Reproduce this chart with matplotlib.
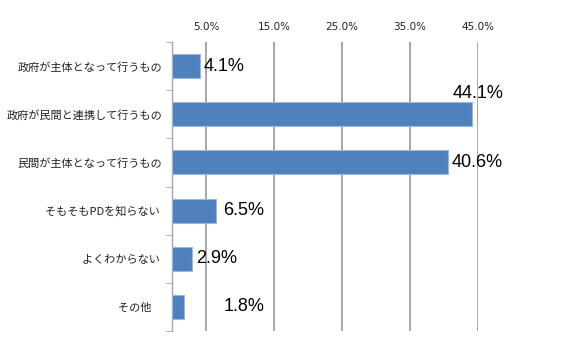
import numpy as np
import matplotlib.pyplot as plt
from matplotlib.ticker import FixedLocator

plt.rcParams['font.family'] = ['Noto Sans CJK JP', 'DejaVu Sans']

# survey answers, top to bottom
categories = ['政府が主体となって行うもの', '政府が民間と連携して行うもの',
              '民間が主体となって行うもの', 'そもそもPDを知らない ',
              'よくわからない ', 'その他　']
values = [4.1, 44.1, 40.6, 6.5, 2.9, 1.8]
x_ticks = [5, 15, 25, 35, 45]

# label offsets (points) from the bar end
label_offsets = [(3, 0), (-14, 15), (3, 0), (5, 0), (3, 0), (28, 0)]

fig = plt.figure(figsize=(5.8, 3.47), dpi=100)
ax = fig.add_axes([0.2966, 0.046, 0.527, 0.833])

y = np.arange(len(values))
ax.barh(y, values, height=0.5, color='#4F81BD', edgecolor='#9bb8dc',
        linewidth=0.8, zorder=3)

for yi, v, (dx, dy) in zip(y, values, label_offsets):
    ax.annotate(f'{v:.1f}%', xy=(v, yi), xytext=(dx, dy),
                textcoords='offset points', ha='left', va='center',
                fontsize=13, family=['Liberation Sans', 'DejaVu Sans'],
                color='black', zorder=4)

ax.set_xlim(0, 45)
ax.set_ylim(len(values) - 0.5, -0.5)
ax.xaxis.set_major_locator(FixedLocator(x_ticks))
ax.set_xticklabels([f'{t:.1f}%' for t in x_ticks],
                   family=['DejaVu Sans'], fontsize=7.5, color='#222222')
ax.xaxis.tick_top()
ax.tick_params(axis='x', length=0, pad=7)
ax.grid(axis='x', color='#a6a6a6', linewidth=1.4, zorder=0)

ax.set_yticks(y)
ax.set_yticklabels(categories, fontsize=8, color='#222222')
ax.set_yticks(np.arange(len(values) + 1) - 0.5, minor=True)
ax.tick_params(axis='y', which='major', length=0, pad=7)
ax.tick_params(axis='y', which='minor', length=4, color='#a6a6a6')

for side in ['top', 'right', 'bottom']:
    ax.spines[side].set_visible(False)
ax.spines['left'].set_color('#a6a6a6')
ax.spines['left'].set_linewidth(1.0)

fig.savefig('out.png', dpi=100)
